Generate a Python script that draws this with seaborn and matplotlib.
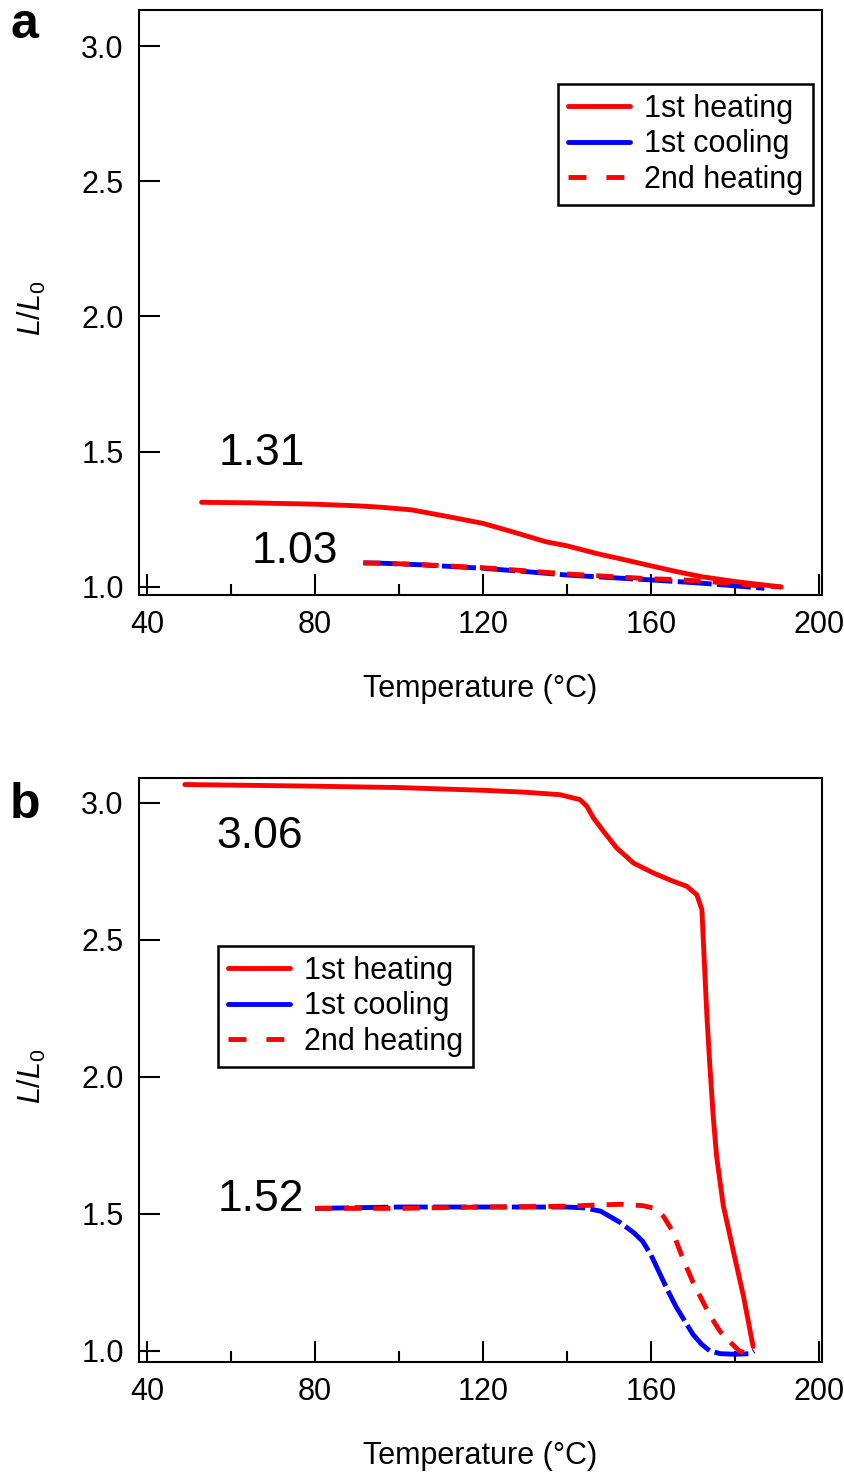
import numpy as np
import pandas as pd
import matplotlib
matplotlib.use('Agg')
import matplotlib.pyplot as plt
import seaborn as sns
from matplotlib.lines import Line2D
from matplotlib.ticker import MultipleLocator

# ---- panel a data ----
a_heat1_T = [53, 65, 80, 90, 95.5, 103, 111, 120, 127, 135, 140, 147.5, 153, 160, 166, 172, 180, 186, 191]
a_heat1_L = [1.313, 1.311, 1.306, 1.30, 1.295, 1.285, 1.262, 1.235, 1.204, 1.167, 1.152, 1.122, 1.103,
             1.078, 1.057, 1.038, 1.02, 1.009, 1.0]
a_cool_T = [91.5, 95.5, 105, 120, 130, 140, 151, 160, 172, 180, 187]
a_cool_L = [1.089, 1.088, 1.082, 1.069, 1.057, 1.044, 1.034, 1.026, 1.014, 1.004, 0.995]
a_heat2_T = [91.5, 95.5, 105, 120, 130, 140, 151, 160, 165, 172, 180, 186, 191]
a_heat2_L = [1.089, 1.088, 1.083, 1.071, 1.06, 1.048, 1.038, 1.03, 1.028, 1.022, 1.012, 1.004, 1.0]

# ---- panel b data ----
b_heat1_T = [49, 60, 80, 100, 120, 130, 138.3, 143.1, 144.7, 146.3, 148.7, 151.8, 155.8, 160.6, 165.3,
             168.5, 170.9, 172.1, 172.4, 173.3, 174.0, 174.8, 175.6, 177.2, 179.5, 182, 184.3]
b_heat1_L = [3.066, 3.064, 3.06, 3.055, 3.045, 3.038, 3.029, 3.011, 2.987, 2.944, 2.895, 2.835, 2.78, 2.743, 2.713,
             2.695, 2.664, 2.61, 2.51, 2.22, 2.04, 1.855, 1.71, 1.53, 1.37, 1.2, 1.016]
b_cool_T = [80, 100, 120, 140, 144, 148, 152.5, 156, 158, 160, 162, 164, 166, 168, 170, 172, 174, 176.5, 180, 183.5, 184.5]
b_cool_L = [1.52, 1.525, 1.525, 1.525, 1.522, 1.51, 1.47, 1.43, 1.40, 1.35, 1.285, 1.22, 1.16, 1.11, 1.06, 1.025,
            1.0, 0.99, 0.988, 0.99, 1.0]
b_heat2_T = [80, 100, 120, 140, 148, 153, 158, 161, 163, 165, 167.5, 170, 172, 174, 176.5, 179, 181, 183, 184.5]
b_heat2_L = [1.52, 1.52, 1.525, 1.528, 1.533, 1.535, 1.53, 1.52, 1.49, 1.44, 1.34, 1.25, 1.19, 1.13, 1.07, 1.03,
             1.0, 0.99, 1.0]

series_names = ['1st heating', '1st cooling', '2nd heating']

sns.set_style('ticks')
plt.rcParams['font.family'] = ['Liberation Sans', 'DejaVu Sans']
plt.rcParams['mathtext.fontset'] = 'custom'
plt.rcParams['mathtext.it'] = 'Liberation Sans:italic'
plt.rcParams['mathtext.rm'] = 'Liberation Sans'
for k in ['text.color', 'axes.labelcolor', 'xtick.color', 'ytick.color', 'axes.edgecolor']:
    plt.rcParams[k] = 'black'

fig = plt.figure(figsize=(8.45, 14.81), dpi=100)
ax_a = fig.add_axes([0.1645, 0.5982, 0.8083, 0.3950])
ax_b = fig.add_axes([0.1645, 0.0804, 0.8083, 0.3943])

lw = 3.5
fs = 22


def draw_panel(ax, h1T, h1L, cT, cL, h2T, h2L, ylim, legend_loc, anchor):
    sns.lineplot(x=h1T, y=h1L, ax=ax, color='#ff0000', lw=lw, sort=False, zorder=3)
    sns.lineplot(x=cT, y=cL, ax=ax, color='#0000ff', lw=lw, sort=False, zorder=2)
    ax.lines[-1].set_dashes((7, 1.1))
    sns.lineplot(x=h2T, y=h2L, ax=ax, color='#ff0000', lw=lw, sort=False, zorder=4)
    ax.lines[-1].set_dashes((3.5, 2.5))

    ax.set_xlim(38.1, 200.7)
    ax.set_ylim(*ylim)
    ax.xaxis.set_major_locator(MultipleLocator(40))
    ax.xaxis.set_minor_locator(MultipleLocator(20))
    ax.yaxis.set_major_locator(MultipleLocator(0.5))
    ax.tick_params(axis='both', which='major', direction='in', length=15, width=1.5,
                   labelsize=fs, pad=11)
    ax.tick_params(axis='x', which='minor', direction='in', length=8, width=1.5)
    ax.set_yticklabels([f'{v:.1f}' for v in ax.get_yticks()])
    for s in ax.spines.values():
        s.set_linewidth(1.5)
    ax.set_xlabel('Temperature (°C)', fontsize=fs)
    ax.set_ylabel('$L/L_0$', fontsize=fs)
    ax.xaxis.set_label_coords(0.5, -0.135)
    ax.yaxis.set_label_coords(-0.133, 0.49)

    handles = [Line2D([], [], color='#ff0000', lw=lw),
               Line2D([], [], color='#0000ff', lw=lw),
               Line2D([], [], color='#ff0000', lw=lw, dashes=(3.7, 4.1))]
    leg = ax.legend(handles, series_names, loc=legend_loc, bbox_to_anchor=anchor,
                    fontsize=fs, frameon=True, fancybox=False, edgecolor='black',
                    framealpha=1, handlelength=2.05, handletextpad=0.45,
                    labelspacing=0.18, borderpad=0.32, borderaxespad=0)
    leg.get_frame().set_linewidth(1.8)
    return leg


draw_panel(ax_a, a_heat1_T, a_heat1_L, a_cool_T, a_cool_L, a_heat2_T, a_heat2_L,
           (0.97, 3.133), 'upper right', (0.987, 0.8735))
draw_panel(ax_b, b_heat1_T, b_heat1_L, b_cool_T, b_cool_L, b_heat2_T, b_heat2_L,
           (0.96, 3.09), 'upper left', (0.1157, 0.7123))

# value annotations
ax_a.text(57.1, 1.451, '1.31', fontsize=32, ha='left', va='baseline')
ax_a.text(65.0, 1.089, '1.03', fontsize=32, ha='left', va='baseline')
ax_b.text(56.4, 2.836, '3.06', fontsize=32, ha='left', va='baseline')
ax_b.text(56.7, 1.511, '1.52', fontsize=32, ha='left', va='baseline')

# panel letters
fig.text(0.012, 0.9743, 'a', fontsize=36, fontweight='bold', ha='left', va='baseline')
fig.text(0.012, 0.4477, 'b', fontsize=36, fontweight='bold', ha='left', va='baseline')

fig.savefig('out.png', dpi=100)
